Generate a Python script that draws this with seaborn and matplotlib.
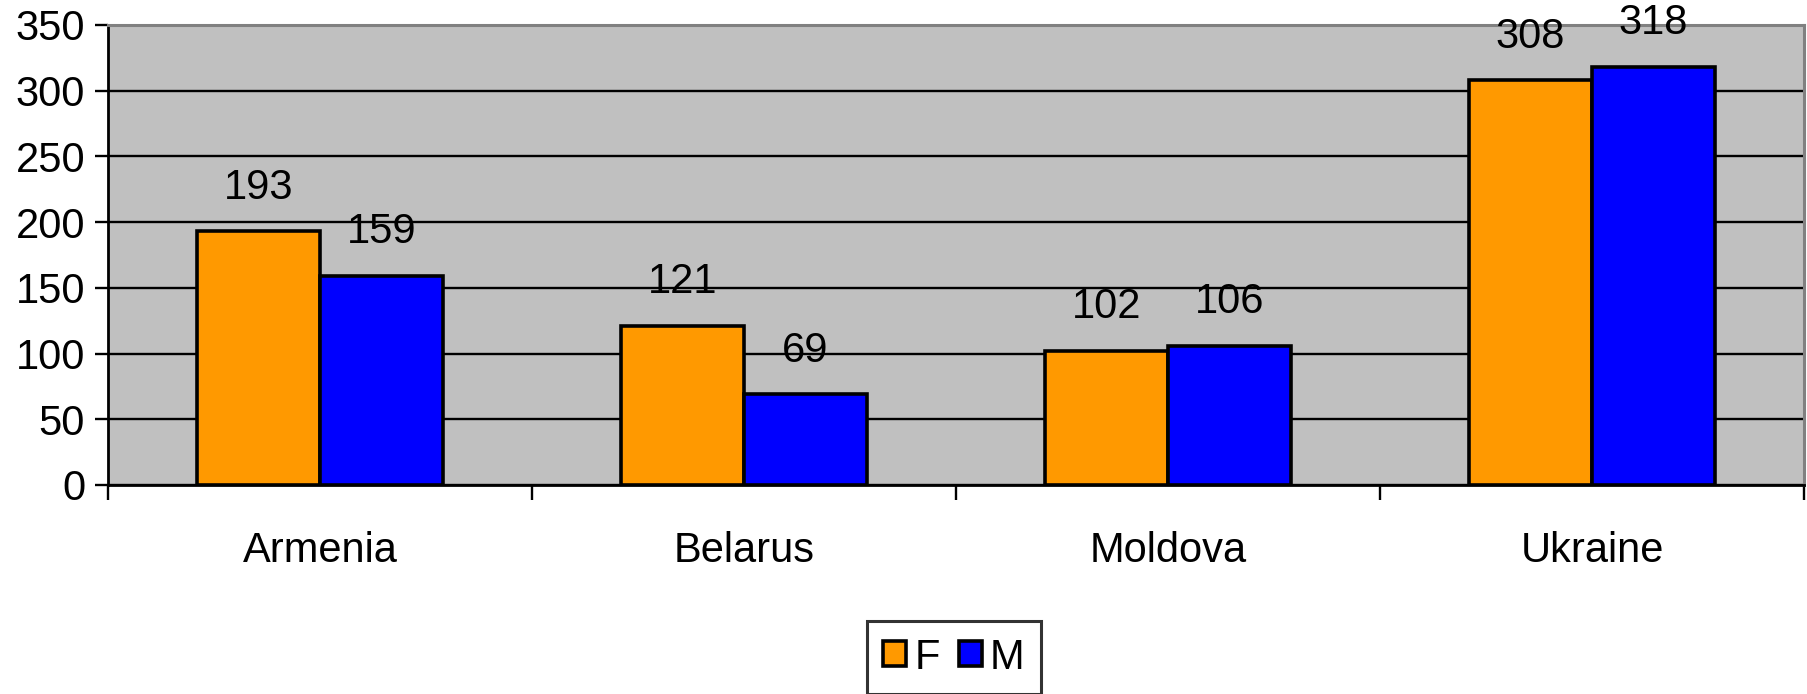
import matplotlib
matplotlib.use("Agg")
import matplotlib.pyplot as plt
import seaborn as sns
import pandas as pd

countries = ["Armenia", "Belarus", "Moldova", "Ukraine"]
female = [193, 121, 102, 308]
male = [159, 69, 106, 318]
sexes = ["F", "M"]
yticks = [0, 50, 100, 150, 200, 250, 300, 350]

df = pd.DataFrame({
    "country": countries * 2,
    "sex": ["F"] * len(countries) + ["M"] * len(countries),
    "value": female + male,
})

sns.set_style("white")
plt.rcParams["font.family"] = ["Liberation Sans", "DejaVu Sans"]
plt.rcParams["text.color"] = "black"
plt.rcParams["xtick.color"] = "black"
plt.rcParams["ytick.color"] = "black"
plt.rcParams["axes.labelcolor"] = "black"

W, H = 1808, 694
fig = plt.figure(figsize=(W / 100, H / 100), dpi=100)
left, right, top, bottom = 108, 1804, 25, 485
ax = fig.add_axes([left / W, 1 - bottom / H, (right - left) / W, (bottom - top) / H])
ax.set_facecolor("#C0C0C0")

sns.barplot(data=df, x="country", y="value", hue="sex", order=countries,
            hue_order=sexes, palette={"F": "#FF9900", "M": "#0000FF"},
            width=0.58, gap=0, edgecolor="black", linewidth=2.6,
            saturation=1, ax=ax, legend=True, zorder=3)

ax.set_ylim(0, 350)
ax.set_xlim(-0.5, 3.5)
ax.set_yticks(yticks)
ax.set_yticklabels([str(v) for v in yticks])
ax.yaxis.grid(True, color="black", linewidth=1.7, zorder=1)
ax.set_axisbelow(True)
ax.set_xlabel("")
ax.set_ylabel("")

for c in ax.containers:
    ax.bar_label(c, padding=17, fontsize=30, color="black")

ax.tick_params(axis="y", direction="out", length=9.5, width=1.7, labelsize=30,
               pad=7, left=True, colors="black")
ax.tick_params(axis="x", which="major", length=0, labelsize=30, pad=33, colors="black")
ax.set_xticks([-0.5, 0.5, 1.5, 2.5, 3.5], minor=True)
ax.tick_params(axis="x", which="minor", direction="out", length=11, width=1.7,
               bottom=True, colors="black")

for s in ["left", "bottom"]:
    ax.spines[s].set_color("black")
    ax.spines[s].set_linewidth(2)
for s in ["top", "right"]:
    ax.spines[s].set_color("#808080")
    ax.spines[s].set_linewidth(2.2)

handles, labels = ax.get_legend_handles_labels()
ax.get_legend().remove()
leg = fig.legend(handles, labels, loc="upper center",
                 bbox_to_anchor=(954 / W, 1 - 621 / H), ncol=2,
                 fontsize=30, frameon=True, fancybox=False,
                 handlelength=0.55, handleheight=0.55, handletextpad=0.2,
                 columnspacing=0.45, borderpad=0.4, borderaxespad=0)
leg.get_frame().set_edgecolor("black")
leg.get_frame().set_linewidth(2.2)
for t in leg.get_texts():
    t.set_color("black")

fig.savefig("out.png", dpi=100, facecolor="white")
